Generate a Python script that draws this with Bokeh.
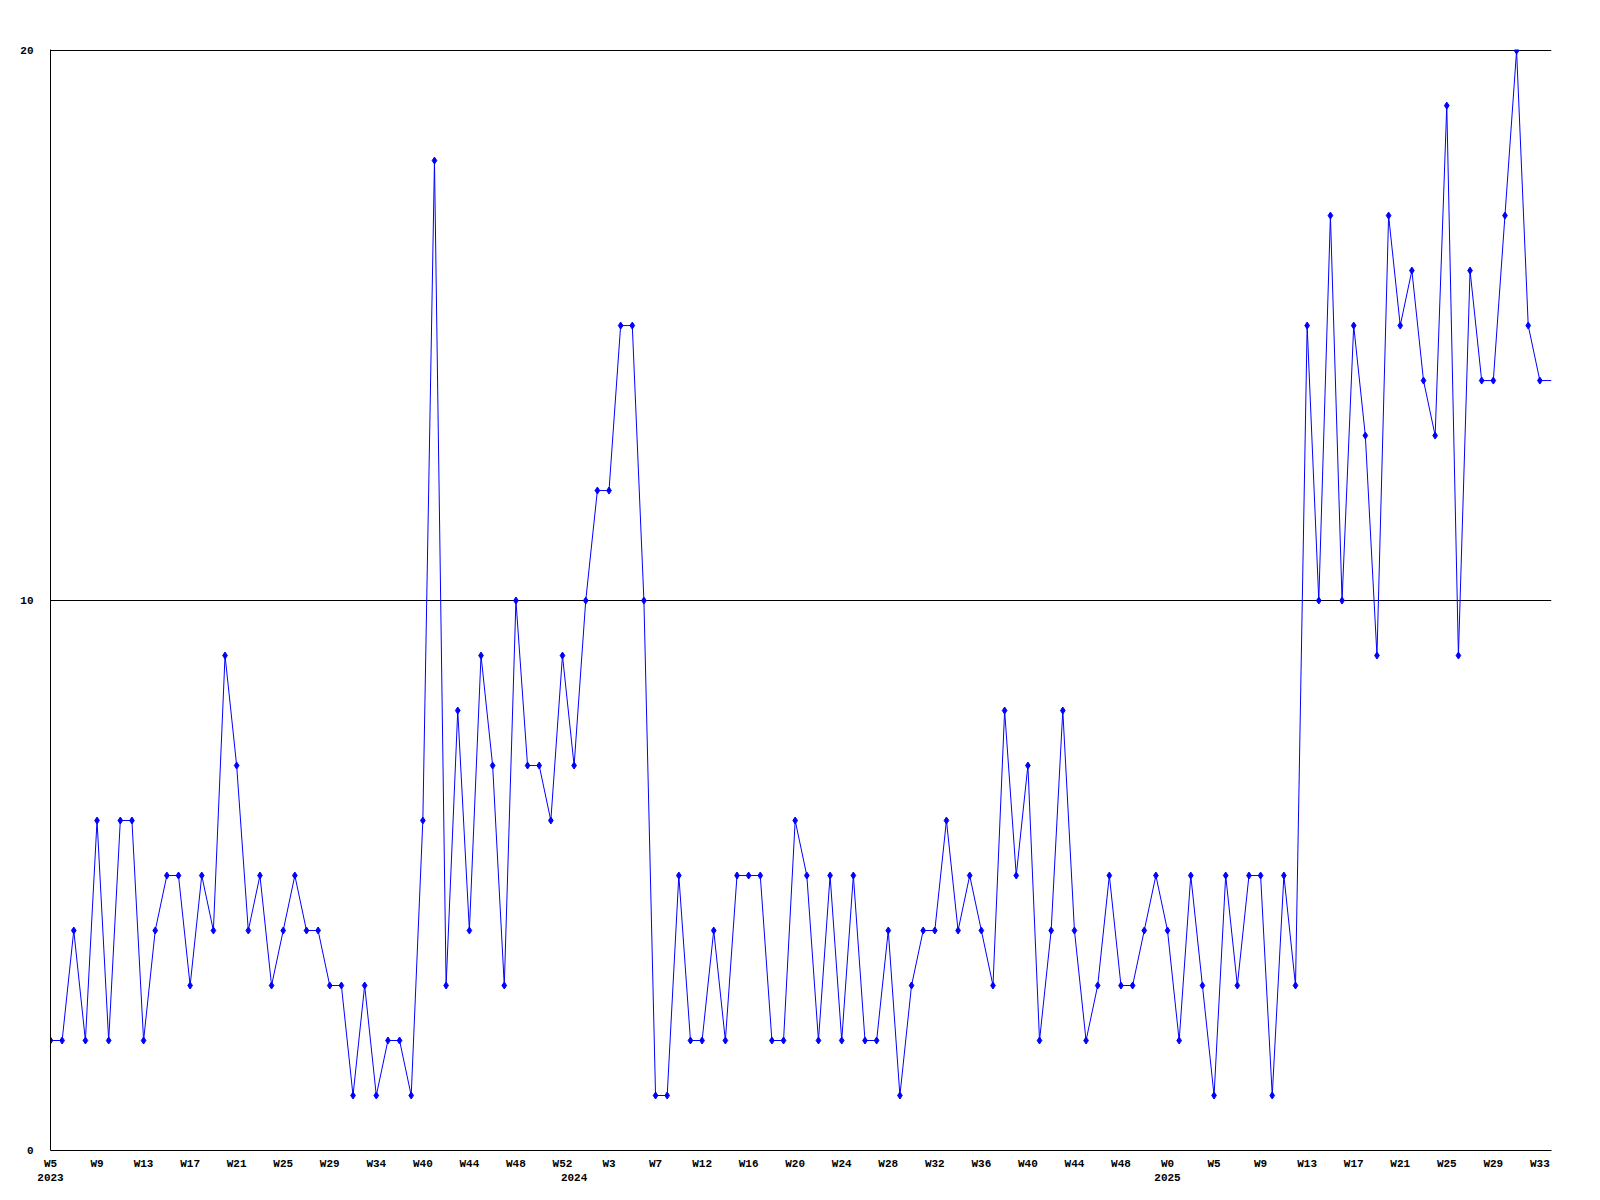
from bokeh.plotting import figure
from bokeh.models import FixedTicker, LinearAxis, Range1d
from bokeh.embed import file_html
from bokeh.resources import INLINE

# ---- data ----
values = [
    2, 2, 4, 2, 6, 2, 6, 6, 2, 4, 5, 5, 3, 5, 4, 9, 7, 4, 5, 3,
    4, 5, 4, 4, 3, 3, 1, 3, 1, 2, 2, 1, 6, 18, 3,
    8, 4, 9, 7, 3, 10, 7, 7, 6, 9, 7, 10, 12, 12, 15, 15, 10, 1, 1,
    5, 2, 2, 4, 2, 5, 5, 5, 2, 2, 6, 5, 2, 5, 2,
    5, 2, 2, 4, 1, 3, 4, 4, 6, 4, 5, 4, 3, 8, 5, 7, 2, 4, 8, 4,
    2, 3, 5, 3, 3, 4, 5, 4, 2, 5, 3, 1, 5, 3, 5,
    5, 1, 5, 3,
    15, 10, 17, 10, 15, 13, 9, 17, 15, 16, 14, 13, 19, 9, 16, 14, 14, 17, 20, 15,
    14, 14,
]
week_labels = [
    "W5", "W9", "W13", "W17", "W21", "W25", "W29", "W34", "W40", "W44", "W48", "W52",
    "W3", "W7", "W12", "W16", "W20", "W24", "W28", "W32", "W36", "W40", "W44", "W48",
    "W0", "W5", "W9", "W13", "W17", "W21", "W25", "W29", "W33",
]
label_every = 4
year_labels = ["2023", "2024", "2025"]
year_start_index = [0, 45, 96]
y_ticks = [0, 10, 20]
grid_values = [10, 20]

xs = list(range(len(values)))
week_ticks = [i * label_every for i in range(len(week_labels))]

FONT = "Liberation Mono"
BLUE = "#0000FF"

p = figure(
    frame_width=1501, frame_height=1101,
    x_range=Range1d(0, len(values) - 1), y_range=Range1d(0, 20.02),
    output_backend="svg", toolbar_location=None,
    min_border_left=50, min_border_top=49, min_border_right=45, min_border_bottom=5,
    background_fill_color="white", border_fill_color="white",
)
p.outline_line_color = None

# line and markers (last point is at the right edge and shows no marker)
p.line(xs, values, line_color=BLUE, line_width=1)
p.scatter(xs[:-1], values[:-1], marker="diamond", size=7, color=BLUE)

# y axis
ya = p.yaxis[0]
ya.ticker = FixedTicker(ticks=y_ticks)
ya.axis_line_color = "black"
ya.major_tick_line_color = None
ya.minor_tick_line_color = None
ya.major_tick_out = 0
ya.major_label_standoff = 17
ya.major_label_text_font = FONT
ya.major_label_text_font_style = "bold"
ya.major_label_text_font_size = "11px"
ya.major_label_text_color = "black"

# week axis
xa = p.xaxis[0]
xa.ticker = FixedTicker(ticks=week_ticks)
xa.major_label_overrides = {t: l for t, l in zip(week_ticks, week_labels)}
xa.axis_line_color = "black"
xa.major_tick_line_color = None
xa.minor_tick_line_color = None
xa.major_tick_out = 0
xa.major_label_standoff = 7
xa.major_label_text_font = FONT
xa.major_label_text_font_style = "bold"
xa.major_label_text_font_size = "11px"
xa.major_label_text_color = "black"

# year axis
yr = LinearAxis(ticker=FixedTicker(ticks=year_start_index),
                major_label_overrides={t: l for t, l in zip(year_start_index, year_labels)})
yr.axis_line_color = None
yr.major_tick_line_color = None
yr.minor_tick_line_color = None
yr.major_tick_out = 0
yr.major_tick_in = 0
yr.major_label_standoff = 1
yr.major_label_text_font = FONT
yr.major_label_text_font_style = "bold"
yr.major_label_text_font_size = "11px"
yr.major_label_text_color = "black"
p.add_layout(yr, "below")

# grid
p.xgrid.visible = False
p.ygrid.ticker = FixedTicker(ticks=grid_values)
p.ygrid.grid_line_color = "black"
p.ygrid.grid_line_width = 1

open("out.html", "w").write(file_html(p, INLINE))
